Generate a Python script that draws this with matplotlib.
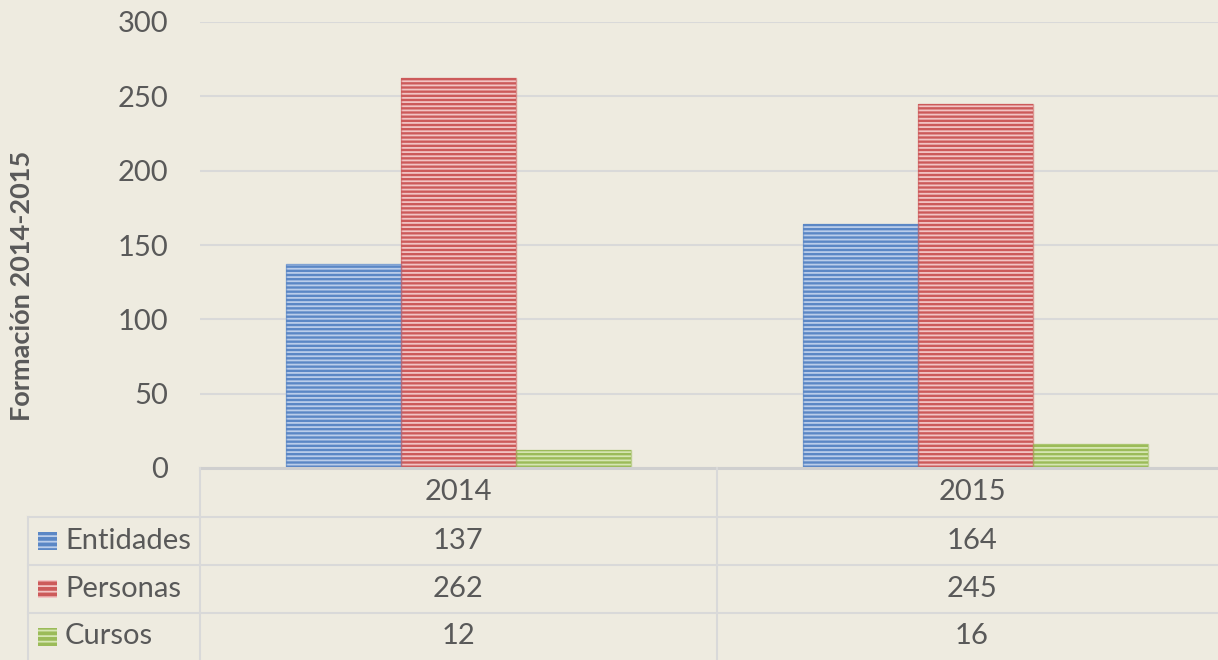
import matplotlib
matplotlib.use("Agg")
import matplotlib.pyplot as plt
import numpy as np
from matplotlib.lines import Line2D
from matplotlib.patches import Rectangle

years = ["2014", "2015"]
series_names = ["Entidades", "Personas", "Cursos"]
entidades = [137, 164]
personas = [262, 245]
cursos = [12, 16]
values = [entidades, personas, cursos]
y_ticks = [0, 50, 100, 150, 200, 250, 300]
y_label = "Formación 2014-2015"

face_colors = ["#5B87C5", "#CC5A5A", "#9BBB59"]
stripe_colors = ["#BACDEA", "#F2C4C4", "#D6E6B3"]
bg = "#EEEBE0"
text_color = "#595959"
grid_color = "#D9D9D9"
font = "Lato"
fs = 21

plt.rcParams["font.family"] = [font, "DejaVu Sans"]
plt.rcParams["hatch.linewidth"] = 1.3

W, H = 1218, 660
fig = plt.figure(figsize=(W / 100, H / 100), dpi=100, facecolor=bg)
ax_left, ax_right, ax_top, ax_bottom = 200, 1234, 22, 468
ax = fig.add_axes([ax_left / W, 1 - ax_bottom / H, (ax_right - ax_left) / W, (ax_bottom - ax_top) / H])
ax.set_facecolor(bg)

x = np.arange(len(years))
bw = 0.2225
for i, (vals, fc, sc) in enumerate(zip(values, face_colors, stripe_colors)):
    ax.bar(x + (i - 1) * bw, vals, width=bw, color=fc, edgecolor=sc, hatch="----",
           linewidth=0, zorder=3)
    ax.bar(x + (i - 1) * bw, vals, width=bw, facecolor="none", edgecolor=fc,
           linewidth=1.0, zorder=4, alpha=0.6)

ax.set_xlim(-0.5, len(years) - 0.5)
ax.set_ylim(0, 300)
ax.set_yticks(y_ticks)
ax.set_yticklabels([str(t) for t in y_ticks], fontsize=fs, color=text_color)
ax.tick_params(axis="y", length=0, pad=23)
ax.set_xticks([])
for s in ax.spines.values():
    s.set_visible(False)
ax.grid(axis="y", color=grid_color, linewidth=1.5, zorder=0)
ax.set_axisbelow(True)

fig.text(22 / W, 1 - 286 / H, y_label, rotation=90, ha="center", va="center",
         fontsize=19.5, fontweight="bold", color=text_color)

# data table below the axes
def fy(py):
    return 1 - py / H

def fx(px):
    return px / W

lc = grid_color
lw = 1.5
col_edges = [200, 717, 1234]
row_edges = [468, 517, 565, 613, 660]
legend_left = 28
fig.add_artist(Line2D([fx(200), fx(1218)], [fy(468), fy(468)], color="#CFCFCF", lw=2.2))
for px in col_edges[:-1]:
    fig.add_artist(Line2D([fx(px), fx(px)], [fy(468), fy(660)], color=lc, lw=lw))
fig.add_artist(Line2D([fx(legend_left), fx(legend_left)], [fy(517), fy(660)], color=lc, lw=lw))
for py in row_edges[1:-1]:
    fig.add_artist(Line2D([fx(legend_left), fx(1218)], [fy(py), fy(py)], color=lc, lw=lw))

centers = [458, 972]
for j, yr in enumerate(years):
    fig.text(fx(centers[j]), fy((row_edges[0] + row_edges[1]) / 2), yr, ha="center", va="center",
             fontsize=fs, color=text_color)
for i, (name, vals) in enumerate(zip(series_names, values)):
    ymid = (row_edges[i + 1] + row_edges[i + 2]) / 2
    fig.add_artist(Rectangle((fx(38), fy(ymid + 9)), 19 / W, 18 / H, transform=fig.transFigure,
                             facecolor=face_colors[i], edgecolor=stripe_colors[i], hatch="---",
                             linewidth=0))
    fig.text(fx(65), fy(ymid), name, ha="left", va="center", fontsize=fs, color=text_color)
    for j, v in enumerate(vals):
        fig.text(fx(centers[j]), fy(ymid), str(v), ha="center", va="center", fontsize=fs,
                 color=text_color)

fig.savefig("out.png", dpi=100, facecolor=bg)
